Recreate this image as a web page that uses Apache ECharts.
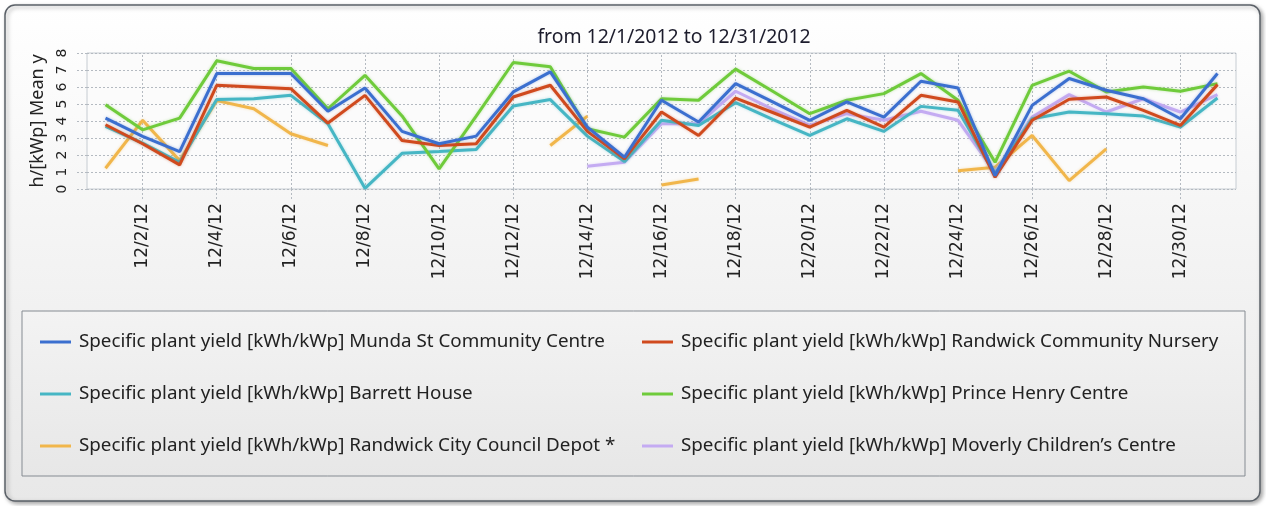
<!DOCTYPE html>
<html>
<head>
<meta charset="utf-8">
<script src="https://cdn.jsdelivr.net/npm/echarts@6/dist/echarts.min.js"></script>
<style>
html,body{margin:0;padding:0;background:#ffffff;}
#chart{width:1266px;height:506px;}
</style>
</head>
<body>
<div id="chart"></div>
<script>
const categories = ['12/1/12','12/2/12','12/3/12','12/4/12','12/5/12','12/6/12','12/7/12','12/8/12','12/9/12','12/10/12',
  '12/11/12','12/12/12','12/13/12','12/14/12','12/15/12','12/16/12','12/17/12','12/18/12','12/19/12','12/20/12',
  '12/21/12','12/22/12','12/23/12','12/24/12','12/25/12','12/26/12','12/27/12','12/28/12','12/29/12','12/30/12','12/31/12'];

const mundaSt = [4.17,3.1,2.2,6.79,6.79,6.79,4.57,5.94,3.39,2.66,3.11,5.71,6.89,3.64,1.87,5.22,3.94,6.2,5.12,4.04,5.12,4.23,6.34,5.94,0.79,4.92,6.5,5.81,5.31,4.13,6.79];
const randwickNursery = [3.78,2.66,1.42,6.1,6.0,5.9,3.88,5.51,2.85,2.56,2.66,5.41,6.1,3.39,1.77,4.53,3.15,5.35,4.5,3.64,4.63,3.64,5.51,5.12,0.69,4.04,5.28,5.41,4.63,3.74,6.14];
const barrettHouse = [3.68,2.7,1.57,5.26,5.31,5.51,3.84,0.04,2.1,2.2,2.32,4.88,5.26,3.11,1.61,4.04,3.74,5.08,4.1,3.15,4.13,3.39,4.86,4.63,0.89,4.13,4.53,4.43,4.29,3.64,5.35];
const princeHenry = [4.96,3.48,4.17,7.54,7.09,7.09,4.72,6.69,4.3,1.18,4.29,7.44,7.19,3.54,3.05,5.31,5.22,7.05,5.75,4.43,5.22,5.61,6.79,5.22,1.57,6.1,6.93,5.71,6.0,5.75,6.2];
const councilDepot = [1.22,4.04,1.67,5.2,4.72,3.25,2.56,null,null,null,null,null,2.56,4.29,null,0.24,0.59,null,null,null,null,null,null,1.08,1.28,3.15,0.49,2.36,null,null,null];
const moverly = [null,null,null,null,null,null,null,null,null,null,null,null,null,1.34,1.57,3.84,3.84,5.75,4.7,3.74,4.43,4.04,4.57,4.04,0.98,4.23,5.55,4.53,5.31,4.53,5.55];

const seriesNames = [
  'Specific plant yield [kWh/kWp] Munda St Community Centre',
  'Specific plant yield [kWh/kWp] Randwick Community Nursery',
  'Specific plant yield [kWh/kWp] Barrett House',
  'Specific plant yield [kWh/kWp] Prince Henry Centre',
  'Specific plant yield [kWh/kWp] Randwick City Council Depot *',
  'Specific plant yield [kWh/kWp] Moverly Children\u2019s Centre'
];
const seriesData = [mundaSt, randwickNursery, barrettHouse, princeHenry, councilDepot, moverly];
const colors = ['#3b6fcf','#d04a1e','#46b6c4','#6fcb3b','#f1b64b','#c4abf2'];
const zOrder = [8,7,5,6,3,4];

const titleText = 'from 12/1/2012 to 12/31/2012';
const yAxisName = 'h/[kWp] Mean y';
const yTicks = [0,1,2,3,4,5,6,7,8];

const chart = echarts.init(document.getElementById('chart'));

const evenDays = categories.filter((c, i) => i % 2 === 1).map(c => ({ xAxis: c }));

const series = seriesData.map((d, i) => ({
  name: seriesNames[i],
  type: 'line',
  data: d,
  z: zOrder[i],
  showSymbol: false,
  symbol: 'none',
  connectNulls: false,
  lineStyle: { width: 3, color: colors[i], shadowBlur: 3, shadowColor: colors[i] + '66' },
  itemStyle: { color: colors[i] },
  emphasis: { disabled: true },
  animation: false
}));
series[2].markLine = {
  silent: true,
  symbol: 'none',
  label: { show: false },
  lineStyle: { type: [2, 2], color: '#b4bac1', width: 1 },
  z: 1,
  data: evenDays,
  animation: false
};

const legendText = { fontFamily: 'Noto Sans', fontSize: 18.8, color: '#222', lineHeight: 22, padding: [0,0,0,3] };

chart.setOption({
  animation: false,
  backgroundColor: 'transparent',
  title: {
    text: titleText, left: 669, top: 23, textAlign: 'center',
    textStyle: { fontFamily: 'Noto Sans', fontSize: 19.4, fontWeight: 'normal', color: '#1c1c2c' }
  },
  graphic: [
    { type: 'rect', z: -10, shape: { x: 5, y: 5, width: 1255, height: 496, r: 10 },
      style: { fill: new echarts.graphic.LinearGradient(0,0,0,1,[{offset:0,color:'#ffffff'},{offset:1,color:'#e8e8e8'}]),
               stroke: '#5b6168', lineWidth: 1.5, shadowBlur: 4, shadowOffsetX: 2, shadowOffsetY: 2, shadowColor: 'rgba(0,0,0,0.35)' } },
    { type: 'rect', z: -5, shape: { x: 22, y: 311, width: 1223, height: 165 },
      style: { fill: new echarts.graphic.LinearGradient(0,0,0,1,[{offset:0,color:'#f3f3f3'},{offset:1,color:'#e7e7e7'}]),
               stroke: '#858b92', lineWidth: 1 } }
  ],
  grid: { left: 87, right: 30, top: 53, bottom: 317, show: true, backgroundColor: '#fbfbfb', borderColor: '#c6ccd2', borderWidth: 1 },
  legend: [
    { orient: 'vertical', left: 35, top: 326, itemGap: 30, itemWidth: 31, itemHeight: 3, icon: 'rect',
      data: [seriesNames[0], seriesNames[2], seriesNames[4]], textStyle: legendText, selectedMode: false },
    { orient: 'vertical', left: 637, top: 326, itemGap: 30, itemWidth: 31, itemHeight: 3, icon: 'rect',
      data: [seriesNames[1], seriesNames[3], seriesNames[5]], textStyle: legendText, selectedMode: false }
  ],
  xAxis: {
    type: 'category', data: categories, boundaryGap: true,
    axisLine: { show: false },
    axisTick: { show: true, alignWithLabel: true, interval: (i) => i % 2 === 1, length: 12, lineStyle: { type: [2, 2], color: '#b4bac1' } },
    axisLabel: { interval: (i) => i % 2 === 1, rotate: 90, margin: 14, fontFamily: 'DejaVu Sans', fontSize: 17, color: '#222' },
    splitLine: { show: false }
  },
  yAxis: {
    type: 'value', min: 0, max: 8, interval: 1,
    name: yAxisName, nameLocation: 'middle', nameRotate: 90, nameGap: 39,
    nameTextStyle: { fontFamily: 'Noto Sans', fontSize: 18, color: '#222' },
    axisLine: { show: false },
    axisTick: { show: true, length: 12, lineStyle: { type: [2, 2], color: '#b4bac1' } },
    axisLabel: { rotate: 90, margin: 18, fontFamily: 'DejaVu Sans', fontSize: 14, color: '#222',
      formatter: (v) => yTicks.indexOf(v) >= 0 ? String(v) : '' },
    splitLine: { show: true, lineStyle: { type: [2, 2], color: '#b4bac1' } }
  },
  series: series
});
</script>
</body>
</html>
